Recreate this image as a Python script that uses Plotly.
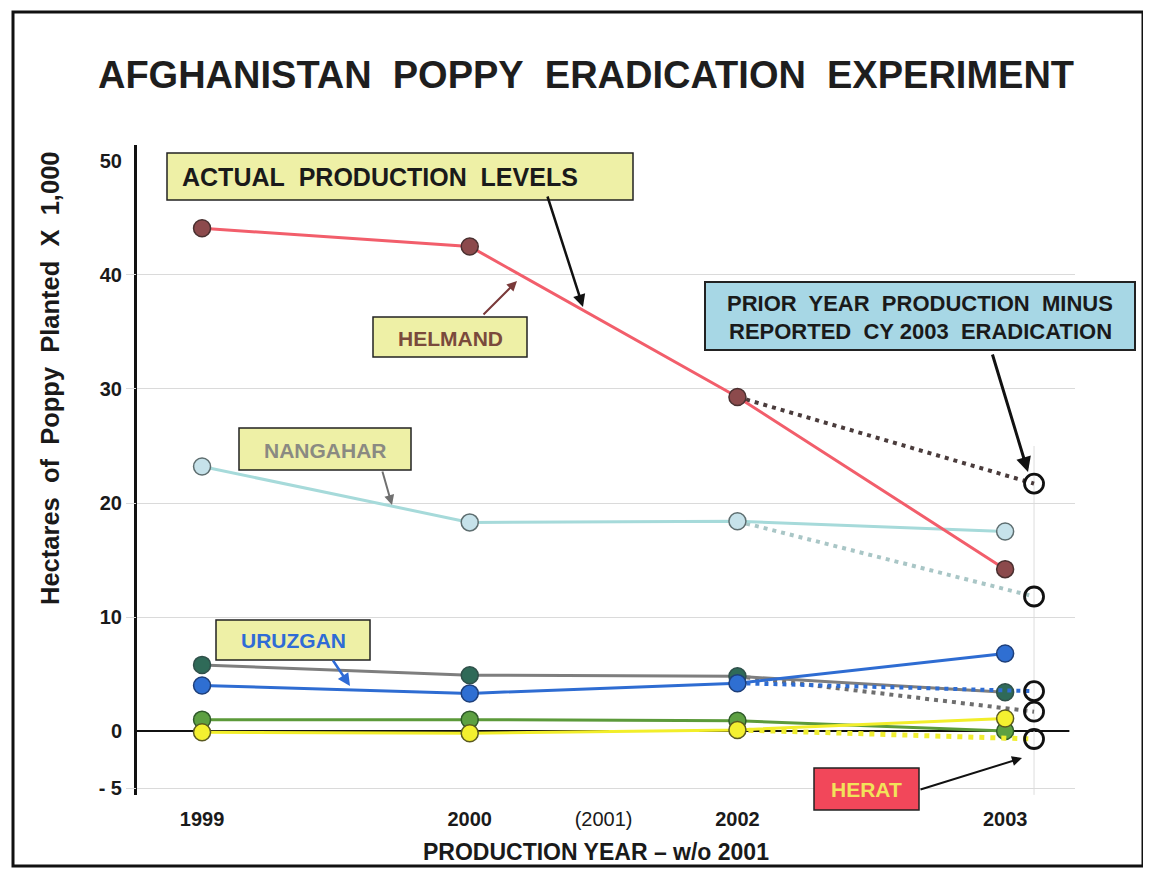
import plotly.graph_objects as go

# ---------------- data ----------------
years = ["1999", "2000", "2002", "2003"]          # production years (2001 omitted)
year_ticks = ["1999", "2000", "(2001)", "2002", "2003"]
helmand = [44.1, 42.5, 29.3, 14.2]
nangahar = [23.2, 18.3, 18.4, 17.5]
other = [5.8, 4.9, 4.8, 3.4]
uruzgan = [4.0, 3.3, 4.2, 6.8]
green_series = [1.0, 1.0, 0.9, 0.0]
herat = [-0.1, -0.2, 0.1, 1.1]
# prior-year production minus reported CY 2003 eradication
helmand_proj = 21.7
nangahar_proj = 11.8
other_proj = 1.7
uruzgan_proj = 3.5
herat_proj = -0.7
y_ticks = [-5, 0, 10, 20, 30, 40, 50]
y_tick_text = ["- 5", "0", "10", "20", "30", "40", "50"]
grid_vals = [-5, 10, 20, 30, 40]

# ---------------- layout geometry ----------------
OFF = 8                      # page body margin of the html page
W, H = 1151 - OFF, 874 - OFF
ML, MR, MT, MB = 137 - OFF, 76, 145 - OFF, 79
PW, PH = W - ML - MR, H - MT - MB

def xp(px):   # page pixel -> paper x
    return (px - OFF - ML) / PW

def yp(py):   # page pixel -> paper y
    return (H - MB - (py - OFF)) / PH

xi = list(range(len(years)))       # category index positions
x_proj = 3.108                     # projection column
x_2001 = 1.5

FONT = "Liberation Sans, Arial, sans-serif"

fig = go.Figure()

# invisible trace to activate the grid axis
fig.add_trace(go.Scatter(x=[None], y=[None], yaxis="y2", showlegend=False, hoverinfo="skip"))

def add_series(vals, proj, line_color, marker_color, marker_line, proj_color, proj_width=4, proj_dash="4px,5px"):
    if proj is not None:
        fig.add_trace(go.Scatter(
            x=[xi[2], x_proj], y=[vals[2], proj], mode="lines",
            line=dict(color=proj_color, width=proj_width, dash=proj_dash),
            showlegend=False, hoverinfo="skip"))
    fig.add_trace(go.Scatter(
        x=xi, y=vals, mode="lines+markers",
        line=dict(color=line_color, width=3),
        marker=dict(size=17, color=marker_color, line=dict(color=marker_line, width=1.5)),
        showlegend=False))
    if proj is not None:
        fig.add_trace(go.Scatter(
            x=[x_proj], y=[proj], mode="markers",
            marker=dict(size=19, symbol="circle-open", color="#111111", line=dict(width=2.8)),
            showlegend=False))

add_series(nangahar, nangahar_proj, "#A6DADA", "#C6E2EA", "#5E6E70", "#A9C6C6")
add_series(helmand, helmand_proj, "#F25E6B", "#8C4A4C", "#4A3030", "#4A3C3C")
add_series(other, other_proj, "#7E7E7E", "#2F6A58", "#30504A", "#6E6E6E")
add_series(uruzgan, uruzgan_proj, "#2E6CD2", "#2F6FD2", "#1E3F7A", "#2E6CD2")
add_series(green_series, None, "#5C9A3A", "#5DA042", "#2F5A2A", None)
add_series(herat, herat_proj, "#F2EE2A", "#F4F030", "#5A5A20", "#F0EE30", proj_width=5, proj_dash="5px,6px")

shapes = []
# zero line (extends a little left of the axis)
shapes.append(dict(type="line", xref="x", yref="y", x0=-0.3, x1=3.24, y0=0, y1=0,
                   line=dict(color="#111111", width=2), layer="below"))
# vertical light guide at projection column
shapes.append(dict(type="line", xref="x", yref="y", x0=x_proj, x1=x_proj, y0=-5.6, y1=25,
                   line=dict(color="#DDDDDD", width=1), layer="below"))
# outer frame
shapes.append(dict(type="rect", xref="paper", yref="paper",
                   x0=xp(13), x1=xp(1143), y0=yp(866), y1=yp(12),
                   line=dict(color="#111111", width=3), fillcolor="rgba(0,0,0,0)"))

annotations = []

def box(x0, x1, y0, y1, fill, border_w=1.5):
    shapes.append(dict(type="rect", xref="paper", yref="paper",
                       x0=xp(x0), x1=xp(x1), y0=yp(y1), y1=yp(y0),
                       line=dict(color="#222222", width=border_w), fillcolor=fill))

def text(t, px, py, size, color, xanchor="center", bold=True, angle=0):
    annotations.append(dict(text=f"<b>{t}</b>" if bold else t, xref="paper", yref="paper",
                            x=xp(px), y=yp(py), xanchor=xanchor, yanchor="middle",
                            showarrow=False, textangle=angle,
                            font=dict(family=FONT, size=size, color=color)))

def arrow(tx, ty, hx, hy, color, width):
    annotations.append(dict(text="", xref="paper", yref="paper", x=xp(hx), y=yp(hy),
                            ax=tx - hx, ay=ty - hy, showarrow=True, arrowhead=2,
                            arrowsize=1, arrowwidth=width, arrowcolor=color))

S = "\u00a0 "  # wide word gap
YEL = "#EEF0A6"

box(167, 633, 153, 200, YEL)
text(f"ACTUAL{S}PRODUCTION{S}LEVELS", 180, 177, 25, "#1A1A1A", xanchor="left")
arrow(547, 195, 583, 307, "#111111", 2.5)

box(373, 527, 317, 357, YEL)
text("HELMAND", 450, 338, 21, "#7A4A3C")
arrow(482, 316, 517, 281, "#7A3A3A", 2)

box(705, 1135, 282, 350, "#A7D7E5", 2)
text(f"PRIOR{S}YEAR{S}PRODUCTION{S}MINUS", 920, 303, 22, "#1A1A1A")
text(f"REPORTED{S}CY 2003{S}ERADICATION", 920, 331, 22, "#1A1A1A")
arrow(992, 353, 1028, 472, "#111111", 3)

box(239, 411, 428, 470, YEL)
text("NANGAHAR", 325, 450, 21, "#8A8A82")
arrow(382, 470, 392, 505, "#707070", 2)

box(216, 370, 620, 660, YEL)
text("URUZGAN", 293, 640, 21, "#2F6BD6")
arrow(332, 659, 350, 686, "#2F6BD6", 2.5)

box(814, 919, 768, 810, "#F2475A")
text("HERAT", 866, 789, 21, "#F2E25A")
arrow(919, 790, 1022, 758, "#111111", 2)

# axis titles
text(f"Hectares{S}of{S}Poppy{S}Planted{S}X{S}1,000", 50, 378, 25.5, "#1A1A1A", angle=-90)
text("PRODUCTION YEAR \u2013 w/o 2001", 596, 852, 23, "#1A1A1A")

tick_text_x = [f"<b>{t}</b>" if not t.startswith("(") else t for t in year_ticks]

fig.update_layout(
    width=W, height=H,
    margin=dict(l=ML, r=MR, t=MT, b=MB),
    paper_bgcolor="white", plot_bgcolor="white",
    title=dict(text=f"<b>AFGHANISTAN{S}POPPY{S}ERADICATION{S}EXPERIMENT</b>",
               x=(586 - OFF) / W, xanchor="center", y=1 - (75 - OFF) / H, yanchor="middle",
               xref="container", yref="container",
               font=dict(family=FONT, size=38, color="#1E1E1E")),
    xaxis=dict(range=[-0.243, 3.261], tickvals=[0, 1, x_2001, 2, 3], ticktext=tick_text_x,
               showgrid=False, zeroline=False, showline=False,
               ticks="outside", ticklen=6, tickcolor="rgba(0,0,0,0)",
               tickfont=dict(family=FONT, size=20, color="#1A1A1A")),
    yaxis=dict(range=[-5.61, 51.4], tickvals=y_ticks, ticktext=[f"<b>{t}</b>" for t in y_tick_text],
               showgrid=False, zeroline=False, showline=True, linecolor="#111111", linewidth=3,
               ticks="outside", ticklen=8, tickcolor="rgba(0,0,0,0)",
               tickfont=dict(family=FONT, size=20, color="#1A1A1A")),
    yaxis2=dict(range=[-5.61, 51.4], overlaying="y", side="left", tickvals=grid_vals,
                showticklabels=False, showgrid=True, gridcolor="#DADADA", gridwidth=1,
                zeroline=False, showline=False, ticks="outside", ticklen=10, tickcolor="#DADADA"),
    showlegend=False,
    shapes=shapes,
    annotations=annotations,
)

fig.write_html("out.html")
